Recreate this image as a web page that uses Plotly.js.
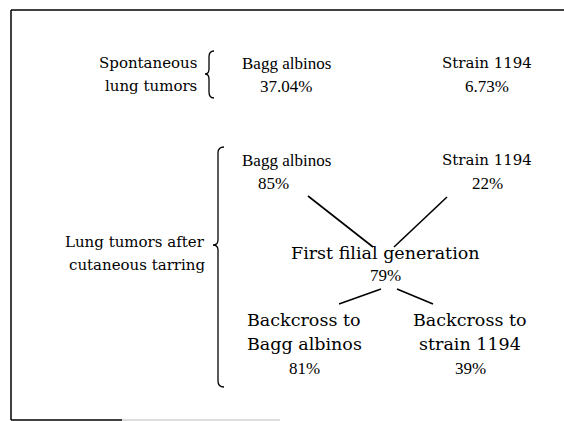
<!DOCTYPE html>
<html><head><meta charset="utf-8">
<script src="https://cdn.plot.ly/plotly-3.0.1.min.js"></script>
<style>html,body{margin:0;padding:0;background:#fff}</style>
</head><body><div id="chart" style="width:564px;height:421px"></div>
<script>
// ---- data ----
const groupLabels = ["Spontaneous<br>lung tumors", "Lung tumors after<br>cutaneous tarring"];
const nodeNames = ["Bagg albinos", "Strain 1194", "Bagg albinos", "Strain 1194",
  "First filial generation", "Backcross to<br>Bagg albinos", "Backcross to<br>strain 1194"];
const nodeValues = ["37.04%", "6.73%", "85%", "22%", "79%", "81%", "39%"];
const edges = [[2, 4], [3, 4], [4, 5], [4, 6]];

// ---- layout (pixel positions of diagram nodes) ----
const nodeX = [286, 487, 286, 487, 385, 304, 470];
const nameY = [63, 63, 160, 160, 253, 320, 320];
const valY = [86, 86, 183, 183, 275, 368, 368];
const valueDX = [0, 0, -13, 0, 0, 0, 0];
const edgeGeom = [[308,196,373,247],[447,197,394,247],[381,289,339,304],[397,289,433,304]];

const fSerif = {family: "Liberation Serif, serif", size: 17, color: "#000"};
const fWide = {family: "DejaVu Serif", size: 15, color: "#000"};
const fLow = {family: "DejaVu Serif", size: 17.5, color: "#000"};
const nameFont = [fSerif, fWide, fSerif, fWide, fLow, fLow, fLow];

const annotations = [];
nodeNames.forEach((n, i) => {
  n.split("<br>").forEach((p, k) => {
    annotations.push({x: nodeX[i], y: nameY[i] + k * 24, xref: "x", yref: "y", text: p,
      showarrow: false, font: nameFont[i], xanchor: "center", yanchor: "middle"});
  });
  annotations.push({x: nodeX[i] + valueDX[i], y: valY[i], xref: "x", yref: "y", text: nodeValues[i],
    showarrow: false, font: fSerif, xanchor: "center", yanchor: "middle"});
});
const groupX = [199, 207];
const groupY = [[63, 86], [242, 265]];
groupLabels.forEach((g, i) => {
  g.split("<br>").forEach((p, k) => {
    annotations.push({x: groupX[i], y: groupY[i][k], xref: "x", yref: "y", text: p, showarrow: false,
      font: fWide, xanchor: "right", yanchor: "middle"});
  });
});

const traces = edges.map((e, i) => ({
  x: [edgeGeom[i][0], edgeGeom[i][2]], y: [edgeGeom[i][1], edgeGeom[i][3]],
  mode: "lines", line: {color: "#000", width: 1.6}, hoverinfo: "skip", showlegend: false
}));

function brace(xe, xs, xt, y0, ym, y1) {
  return `M ${xe},${y0} Q ${xs},${y0} ${xs},${y0+6} L ${xs},${ym-5} Q ${xs},${ym} ${xt},${ym} Q ${xs},${ym} ${xs},${ym+5} L ${xs},${y1-6} Q ${xs},${y1} ${xe},${y1}`;
}

const shapes = [
  {type: "line", xref: "x", yref: "y", x0: 11, y0: 10, x1: 11, y1: 420, line: {color: "#000", width: 1.5}},
  {type: "line", xref: "x", yref: "y", x0: 11, y0: 10, x1: 564, y1: 10, line: {color: "#000", width: 1.5}},
  {type: "line", xref: "x", yref: "y", x0: 11, y0: 420, x1: 122, y1: 420, line: {color: "#000", width: 1.5}},
  {type: "line", xref: "x", yref: "y", x0: 122, y0: 420, x1: 280, y1: 420, line: {color: "#bbb", width: 1.2}},
  {type: "path", xref: "x", yref: "y", path: brace(214, 209, 205, 51, 74, 98), line: {color: "#000", width: 1.3}},
  {type: "path", xref: "x", yref: "y", path: brace(224, 218, 213, 147, 245, 387), line: {color: "#000", width: 1.3}}
];

const layout = {
  width: 564, height: 421, margin: {l: 0, r: 0, t: 0, b: 0},
  paper_bgcolor: "#fff", plot_bgcolor: "#fff",
  xaxis: {range: [0, 564], visible: false, fixedrange: true},
  yaxis: {range: [421, 0], visible: false, fixedrange: true},
  annotations: annotations, shapes: shapes, showlegend: false
};
Plotly.newPlot("chart", traces, layout, {staticPlot: true, displayModeBar: false});
</script></body></html>
